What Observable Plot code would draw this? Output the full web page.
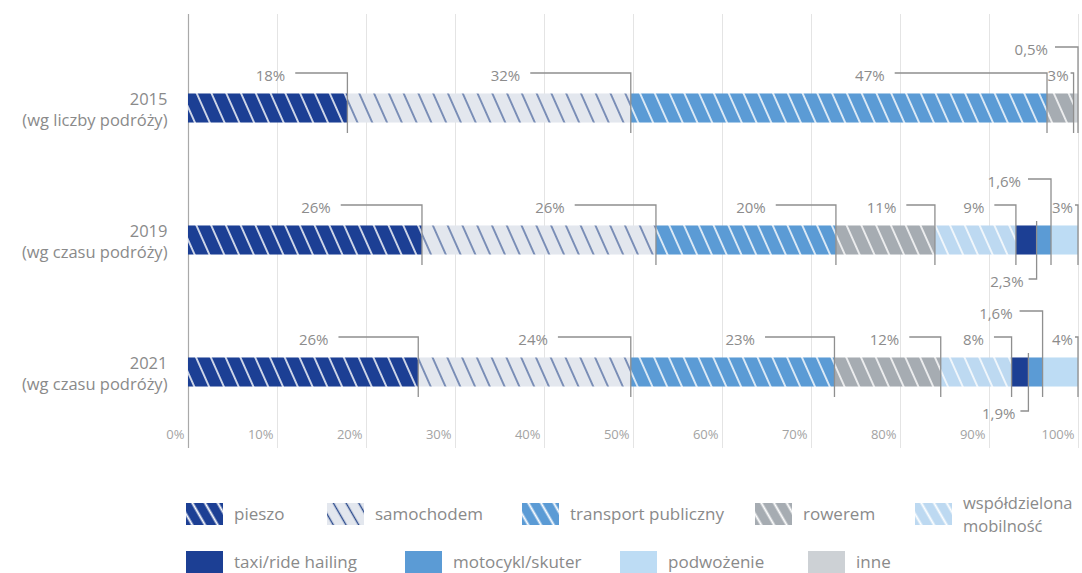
<!DOCTYPE html>
<html><head><meta charset="utf-8">
<script src="https://cdn.jsdelivr.net/npm/d3@7"></script>
<script src="https://cdn.jsdelivr.net/npm/@observablehq/plot@0.6"></script>
<style>
body{margin:0;background:#fff;font-family:"Open Sans",Lato,sans-serif;}
#wrap{position:relative;width:1082px;height:573px;overflow:hidden;background:#fff}
.li{position:absolute;display:flex;align-items:center;color:#8a8a8a;font-size:17px;line-height:22px}
.li.two{font-size:16.5px;line-height:23px}
.li svg{margin-right:11px;flex:none}
</style></head><body><div id="wrap"><div id="chart"></div></div>
<script>
// ---- data ----
const years = ["2015", "2019", "2021"];
const yearNotes = ["(wg liczby podróży)", "(wg czasu podróży)", "(wg czasu podróży)"];
const categories = ["pieszo", "samochodem", "transport publiczny", "rowerem", "współdzielona mobilność",
  "taxi/ride hailing", "motocykl/skuter", "podwożenie", "inne"];
const values2015 = [18, 32, 47, 3, 0, 0, 0, 0, 0.5];
const values2019 = [26, 26, 20, 11, 9, 2.3, 1.6, 3, 0];
const values2021 = [26, 24, 23, 12, 8, 1.9, 1.6, 4, 0];
const xTicks = [0, 10, 20, 30, 40, 50, 60, 70, 80, 90, 100];

// ---- styles ----
const styles = [
  {bg: "#1c3f94", line: "#ffffff", w: 1.5},
  {bg: "#e3e7ee", line: "#2a4a8c", w: 1.1},
  {bg: "#5b9bd5", line: "#ffffff", w: 1.5},
  {bg: "#a6acb2", line: "#ffffff", w: 1.5},
  {bg: "#bdd9f1", line: "#ffffff", w: 1.5},
  {bg: "#1c3f94"},
  {bg: "#5b9bd5"},
  {bg: "#bddcf4"},
  {bg: "#cdd1d5"}
];
function fillFor(i, prefix) { return styles[i].line ? `url(#${prefix}${i})` : styles[i].bg; }
function patternDefs(prefix, size, angle, wMul) {
  return styles.map((s, i) => s.line ? `<pattern id="${prefix}${i}" patternUnits="userSpaceOnUse" width="${size}" height="${size}" patternTransform="rotate(${angle})"><rect width="${size}" height="${size}" fill="${s.bg}"/><line x1="${size/2}" y1="-1" x2="${size/2}" y2="${size+1}" stroke="${s.line}" stroke-width="${s.w*wMul}"/></pattern>` : "").join("");
}

// ---- table ----
const allValues = [values2015, values2019, values2021];
const rows = [];
years.forEach((yr, yi) => {
  const vals = allValues[yi];
  const total = d3.sum(vals);
  let acc = 0;
  vals.forEach((v, ci) => {
    if (v > 0) {
      rows.push({year: yr, cat: categories[ci], ci, value: v, start: acc / total, end: (acc + v) / total});
      acc += v;
    }
  });
});

const fmt = v => String(v).replace(".", ",") + "%";
const textFont = "'Open Sans', Lato, sans-serif";

function defsMark() {
  const g = d3.create("svg:g");
  g.html(`<defs>${patternDefs("bp", 13.5, -24, 1)}</defs>`);
  return g.node();
}

function labelsMark(index, scales) {
  const x = scales.x, y = scales.y;
  const bw = y.bandwidth ? y.bandwidth() : 29;
  const g = d3.create("svg:g").attr("font-family", textFont).attr("font-size", 15).attr("fill", "#8c8c8c");
  for (const s of rows) {
    const cy = y(s.year) + bw / 2;
    const xe = x(s.end), xs = x(s.start);
    let tx, ty, path;
    if (s.value >= 5) {
      tx = xs + 0.61 * (xe - xs); ty = cy - 32;
      path = `M${tx + 10},${cy - 35}H${xe}V${cy + 25}`;
    } else if (s.cat === "taxi/ride hailing") {
      tx = xe - 13; ty = cy + 42;
      path = `M${xe - 8},${cy + 39}H${xe}V${cy - 19}`;
    } else if (s.cat === "motocykl/skuter" || s.cat === "inne") {
      tx = xe - 30; ty = cy - 58;
      path = `M${tx + 7},${cy - 61}H${xe}V${cy + 25}`;
    } else {
      tx = xe - 5; ty = cy - 32;
      path = `M${xe - 3},${cy - 35}H${xe}V${cy + 25}`;
    }
    g.append("path").attr("d", path).attr("fill", "none").attr("stroke", "#8f8f8f").attr("stroke-width", 1.3);
    g.append("text").attr("x", tx).attr("y", ty).attr("dy", "0.35em").attr("text-anchor", "end").text(fmt(s.value));
  }
  return g.node();
}

const chart = Plot.plot({
  width: 1082,
  height: 460,
  marginLeft: 188,
  marginRight: 4,
  marginTop: 14,
  marginBottom: 12,
  style: {fontFamily: textFont, background: "#fff"},
  x: {domain: [0, 1], axis: null},
  y: {domain: years, range: [42, 438], paddingInner: 0.78, paddingOuter: 0.39, round: false, axis: null},
  color: {domain: categories, range: categories.map((c, i) => fillFor(i, "bp"))},
  marks: [
    defsMark,
    Plot.ruleX(xTicks.filter(t => t > 0), {x: t => t / 100, stroke: "#e4e4e4", strokeWidth: 1}),
    Plot.ruleX([0], {stroke: "#a9a9a9", strokeWidth: 1.2}),
    Plot.text(xTicks, {x: t => t / 100, text: t => t + "%", frameAnchor: "bottom", dy: -10, dx: -4,
      textAnchor: "end", fill: "#a3a3a3", fontSize: 13}),
    Plot.barX(rows, {x1: "start", x2: "end", y: "year", fill: "cat"}),
    Plot.text(years, {y: d => d, text: (d, i) => d + "\n" + yearNotes[i], frameAnchor: "left", dx: -21,
      textAnchor: "end", lineHeight: 1.28, fontSize: 16.5, fill: "#8a8a8a"}),
    labelsMark
  ]
});
document.getElementById("chart").appendChild(chart);

// ---- legend ----
const legendLayout = [
  [186, 503], [327, 503], [522, 503], [755, 503], [915, 503],
  [186, 551], [405, 551], [620, 551], [808, 551]
];
const wrap = document.getElementById("wrap");
categories.forEach((c, i) => {
  const two = c === "współdzielona mobilność";
  const d = document.createElement("div");
  d.className = "li" + (two ? " two" : "");
  d.style.left = legendLayout[i][0] + "px";
  d.style.top = (legendLayout[i][1] - (two ? 12 : 0)) + "px";
  const label = two ? "współdzielona<br>mobilność" : c;
  d.innerHTML = `<svg width="37" height="22"><defs>${patternDefs("lg" + i + "_", 11, -30, 1.3)}</defs><rect width="37" height="22" fill="${fillFor(i, "lg" + i + "_")}"/></svg><span>${label}</span>`;
  wrap.appendChild(d);
});
</script>
</body></html>
